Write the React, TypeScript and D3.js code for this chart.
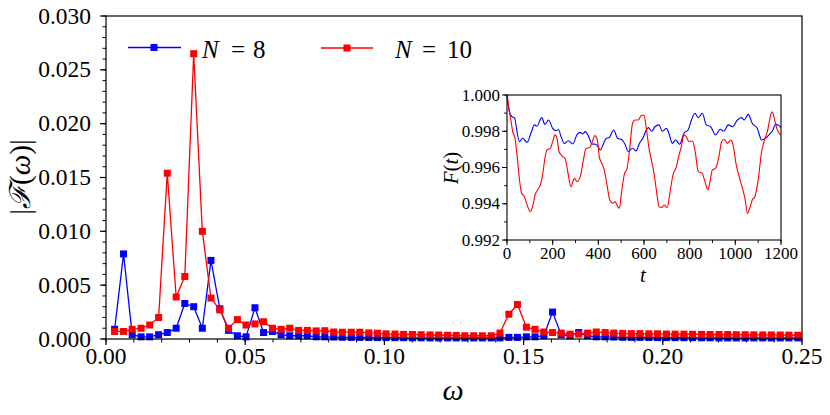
import React, { useEffect } from 'react';
import * as d3 from 'd3';

// frequency grid of the spectrum
const omega = [
  0.0031, 0.0063, 0.0094, 0.0126, 0.0157, 0.0189, 0.022, 0.0252, 0.0283, 0.0315,
  0.0346, 0.0377, 0.0409, 0.044, 0.0472, 0.0503, 0.0535, 0.0566, 0.0598, 0.0629,
  0.066, 0.0692, 0.0723, 0.0755, 0.0786, 0.0818, 0.0849, 0.0881, 0.0912, 0.0944,
  0.0975, 0.1006, 0.1038, 0.1069, 0.1101, 0.1132, 0.1164, 0.1195, 0.1227, 0.1258,
  0.1289, 0.1321, 0.1352, 0.1384, 0.1415, 0.1447, 0.1478, 0.151, 0.1541, 0.1573,
  0.1604, 0.1635, 0.1667, 0.1698, 0.173, 0.1761, 0.1793, 0.1824, 0.1856, 0.1887,
  0.1918, 0.195, 0.1981, 0.2013, 0.2044, 0.2076, 0.2107, 0.2139, 0.217, 0.2202,
  0.2233, 0.2264, 0.2296, 0.2327, 0.2359, 0.239, 0.2422, 0.2453, 0.2485,
];

const specN8 = [
  0.0009, 0.0079, 0.0004, 0.0002, 0.0002, 0.0004, 0.0006, 0.001, 0.0033, 0.003,
  0.001, 0.0073, 0.0028, 0.0008, 0.0003, 0.0002, 0.0029, 0.0006, 0.0007, 0.0004,
  0.0003, 0.0003, 0.0003, 0.0002, 0.0002, 0.00018, 0.00016, 0.00015, 0.00015, 0.00014,
  0.00013, 0.00013, 0.00012, 0.00012, 0.00011, 0.00011, 0.0001, 0.0001, 0.0001, 0.0001,
  0.0001, 0.0001, 0.0001, 0.0001, 0.0001, 0.00015, 0.00015, 0.0002, 0.0002, 0.0003,
  0.0025, 0.0004, 0.0003, 0.0006, 0.0003, 0.0002, 0.0002, 0.00018, 0.00016, 0.00015,
  0.00015, 0.00014, 0.00013, 0.00013, 0.00012, 0.00012, 0.00012, 0.00011, 0.00011, 0.0001,
  0.0001, 0.0001, 0.0001, 0.0001, 0.0001, 0.0001, 0.0001, 0.0001, 0.0001,
];

const specN10 = [
  0.0007, 0.0007, 0.0009, 0.001, 0.0013, 0.002, 0.0154, 0.0039, 0.0058, 0.0265,
  0.01, 0.0038, 0.0027, 0.001, 0.0018, 0.0013, 0.0014, 0.0016, 0.001, 0.0009,
  0.001, 0.0008, 0.0008, 0.00075, 0.00077, 0.00065, 0.00063, 0.00063, 0.00063, 0.00057,
  0.00054, 0.00048, 0.00046, 0.00043, 0.00042, 0.0004, 0.00038, 0.00037, 0.00035, 0.00033,
  0.0003, 0.0003, 0.0003, 0.0003, 0.00055, 0.0023, 0.0032, 0.0011, 0.0009, 0.00065,
  0.0006, 0.00055, 0.00045, 0.00045, 0.00055, 0.00065, 0.0006, 0.00055, 0.00052, 0.0005,
  0.0005, 0.00048, 0.00048, 0.00046, 0.00045, 0.00045, 0.00044, 0.00043, 0.00042, 0.00042,
  0.00041, 0.0004, 0.0004, 0.00039, 0.00038, 0.00038, 0.00037, 0.00036, 0.00035,
];

// inset: fidelity vs time
const tN8 = [
  0, 10, 22, 32, 54, 69, 88, 105, 120, 131, 152, 166, 182, 200, 215, 225, 237, 251, 269, 288,
  307, 321, 331, 343, 361, 371, 390, 409, 423, 434, 448, 467, 485, 502, 517, 531, 550, 565, 580, 594,
  619, 634, 648, 666, 680, 698, 709, 724, 739, 756, 775, 793, 809, 823, 838, 855, 873, 892, 914, 933,
  950, 969, 987, 1009, 1028, 1038, 1057, 1074, 1096, 1115, 1130, 1147, 1162, 1177, 1188, 1200,
];
const fN8 = [
  1.0, 0.9991, 0.9988, 0.99875, 0.99743, 0.99761, 0.99739, 0.9979, 0.99835, 0.99828, 0.99875, 0.99838, 0.99862, 0.99816, 0.99803, 0.9981, 0.9977, 0.99733, 0.99748, 0.9973,
  0.99783, 0.99794, 0.99785, 0.99798, 0.9976, 0.9973, 0.99728, 0.99697, 0.99733, 0.9976, 0.99765, 0.99807, 0.9976, 0.99755, 0.99728, 0.99688, 0.99706, 0.99691, 0.99733, 0.9976,
  0.9982, 0.998, 0.99825, 0.99835, 0.998, 0.99816, 0.99789, 0.99733, 0.99752, 0.99728, 0.99789, 0.99807, 0.99866, 0.99899, 0.99875, 0.99899, 0.99835, 0.99825, 0.9978, 0.99811,
  0.998, 0.99835, 0.99825, 0.99862, 0.99875, 0.99862, 0.99893, 0.99844, 0.99816, 0.99752, 0.9976, 0.9978, 0.99801, 0.99838, 0.99835, 0.9982,
];

const tN10 = [
  0, 8, 17, 25, 35, 44, 54, 64, 76, 88, 102, 112, 123, 134, 146, 156, 166, 175, 190, 200,
  210, 219, 228, 244, 254, 266, 280, 295, 307, 321, 336, 346, 361, 371, 385, 397, 404, 415, 426, 438,
  450, 463, 473, 485, 492, 502, 514, 526, 536, 550, 561, 575, 587, 600, 610, 622, 634, 644, 654, 666,
  677, 688, 702, 712, 727, 742, 750, 765, 775, 785, 797, 812, 823, 838, 855, 867, 880, 889, 899, 914,
  928, 940, 950, 965, 980, 990, 1004, 1019, 1031, 1042, 1053, 1063, 1074, 1086, 1101, 1115, 1130, 1140, 1155, 1162,
  1174, 1184, 1200,
];
const fN10 = [
  1.0, 0.9993, 0.99862, 0.99798, 0.99761, 0.99669, 0.9954, 0.99458, 0.9944, 0.99393, 0.99357, 0.99384, 0.99449, 0.99476, 0.99504, 0.99559, 0.99651, 0.99697, 0.99706, 0.99743,
  0.9978, 0.99761, 0.99688, 0.9966, 0.99651, 0.99577, 0.99494, 0.9954, 0.99522, 0.9955, 0.99651, 0.99706, 0.9971, 0.99733, 0.99776, 0.99743, 0.9966, 0.99623, 0.99586, 0.99504,
  0.99421, 0.99403, 0.99412, 0.99384, 0.99375, 0.99467, 0.99563, 0.99596, 0.99688, 0.99844, 0.99862, 0.99862, 0.99886, 0.9989, 0.99816, 0.99706, 0.99632, 0.99568, 0.99476, 0.99384,
  0.99379, 0.99393, 0.99379, 0.99449, 0.99559, 0.99605, 0.99651, 0.99724, 0.9978, 0.9977, 0.99743, 0.99746, 0.99697, 0.99577, 0.99568, 0.99522, 0.99476, 0.99522, 0.99586, 0.99596,
  0.9966, 0.99743, 0.99756, 0.99733, 0.99752, 0.99724, 0.99614, 0.9954, 0.99485, 0.9943, 0.99347, 0.99375, 0.99421, 0.9944, 0.9954, 0.99688, 0.9976, 0.99798, 0.9989, 0.99908,
  0.99853, 0.99807, 0.99779,
];

const BLUE = '#0000ff';
const RED = '#ff0000';
const FONT = 'Liberation Serif';

const W = 830;
const H = 415;
const main = { left: 106, right: 802, top: 16, bottom: 339 };
const inset = { left: 507, right: 781, top: 95, bottom: 240 };

const App: React.FC = () => {
  useEffect(() => {
    document.body.style.margin = '0';
  }, []);

  const x = d3.scaleLinear().domain([0, 0.25]).range([main.left, main.right]);
  const y = d3.scaleLinear().domain([0, 0.03]).range([main.bottom, main.top]);

  const xi = d3.scaleLinear().domain([0, 1200]).range([inset.left, inset.right]);
  const yi = d3.scaleLinear().domain([0.992, 1.0]).range([inset.bottom, inset.top]);

  const spec = d3.line<number>()
    .x((_, i) => x(omega[i]))
    .y(d => y(d));

  const fid = (ts: number[]) => d3.line<number>()
    .x((_, i) => xi(ts[i]))
    .y(d => yi(d))
    .curve(d3.curveMonotoneX);

  const ms = 7; // marker size

  const series = [
    { vals: specN8, color: BLUE },
    { vals: specN10, color: RED },
  ];

  return (
    <svg width={W} height={H} fontFamily={FONT} style={{ display: 'block', background: '#fff', fontFamily: FONT }}>
      <style>{`text, tspan { font-family: "Liberation Serif", serif !important; }`}</style>
      {/* main axis ticks */}
      {y.ticks(30).map(v => (
        <line key={'ym' + v} x1={main.left - 3.5} x2={main.left} y1={y(v)} y2={y(v)} stroke="#000" strokeWidth={1} />
      ))}
      {y.ticks(6).map(v => (
        <g key={'yM' + v}>
          <line x1={main.left - 6} x2={main.left} y1={y(v)} y2={y(v)} stroke="#000" strokeWidth={1.2} />
          <text x={main.left - 15} y={y(v) + 7.5} fontSize={23.5} textAnchor="end">{d3.format('.3f')(v)}</text>
        </g>
      ))}
      {x.ticks(25).map(v => (
        <line key={'xm' + v} x1={x(v)} x2={x(v)} y1={main.bottom} y2={main.bottom + 3.5} stroke="#000" strokeWidth={1} />
      ))}
      {x.ticks(5).map(v => (
        <g key={'xM' + v}>
          <line x1={x(v)} x2={x(v)} y1={main.bottom} y2={main.bottom + 6} stroke="#000" strokeWidth={1.2} />
          <text x={x(v)} y={main.bottom + 25} fontSize={23.5} textAnchor="middle">{d3.format('.2f')(v)}</text>
        </g>
      ))}

      {/* axis labels */}
      <text x={453} y={400} fontSize={30} fontStyle="italic" textAnchor="middle">ω</text>
      <text transform="translate(30,177) rotate(-90)" fontSize={29} textAnchor="middle">
        |<tspan fontStyle="italic">ℱ</tspan>(<tspan fontStyle="italic">ω</tspan>)|
      </text>

      {/* spectra */}
      {series.map(s => (
        <g key={s.color}>
          <path d={spec(s.vals) ?? ''} fill="none" stroke={s.color} strokeWidth={1.3} />
          {s.vals.map((v, i) => (
            <rect key={i} x={x(omega[i]) - ms / 2} y={y(v) - ms / 2} width={ms} height={ms} fill={s.color} />
          ))}
        </g>
      ))}

      {/* legend */}
      <line x1={128} x2={181} y1={47.5} y2={47.5} stroke={BLUE} strokeWidth={1.3} />
      <rect x={154 - ms / 2} y={47.5 - ms / 2} width={ms} height={ms} fill={BLUE} />
      <text y={58} fontSize={25}>
        <tspan x={202} fontStyle="italic">N</tspan>
        <tspan x={231}>=</tspan>
        <tspan x={253}>8</tspan>
      </text>
      <line x1={321} x2={373} y1={48} y2={48} stroke={RED} strokeWidth={1.3} />
      <rect x={347 - ms / 2} y={48 - ms / 2} width={ms} height={ms} fill={RED} />
      <text y={57.5} fontSize={25}>
        <tspan x={395} fontStyle="italic">N</tspan>
        <tspan x={422}>=</tspan>
        <tspan x={447}>10</tspan>
      </text>

      {/* main frame */}
      <rect x={main.left} y={main.top} width={main.right - main.left} height={main.bottom - main.top}
        fill="none" stroke="#000" strokeWidth={1.2} />

      {/* inset */}
      <rect x={inset.left} y={inset.top} width={inset.right - inset.left} height={inset.bottom - inset.top} fill="#fff" />
      {yi.ticks(8).map(v => (
        <line key={'iym' + v} x1={inset.left - 3} x2={inset.left} y1={yi(v)} y2={yi(v)} stroke="#000" strokeWidth={0.9} />
      ))}
      {yi.ticks(4).map(v => (
        <g key={'iyM' + v}>
          <line x1={inset.left - 5} x2={inset.left} y1={yi(v)} y2={yi(v)} stroke="#000" strokeWidth={1} />
          <text x={inset.left - 7} y={yi(v) + 5.5} fontSize={17} textAnchor="end">{d3.format('.3f')(v)}</text>
        </g>
      ))}
      {xi.ticks(12).map(v => (
        <line key={'ixm' + v} x1={xi(v)} x2={xi(v)} y1={inset.bottom} y2={inset.bottom + 3} stroke="#000" strokeWidth={0.9} />
      ))}
      {xi.ticks(6).map(v => (
        <g key={'ixM' + v}>
          <line x1={xi(v)} x2={xi(v)} y1={inset.bottom} y2={inset.bottom + 5} stroke="#000" strokeWidth={1} />
          <text x={xi(v)} y={inset.bottom + 19} fontSize={17} textAnchor="middle">{d3.format('d')(v)}</text>
        </g>
      ))}
      <text x={643} y={282} fontSize={21} fontStyle="italic" textAnchor="middle">t</text>
      <text transform="translate(458,168) rotate(-90)" fontSize={21} textAnchor="middle">
        <tspan fontStyle="italic">F</tspan>(<tspan fontStyle="italic">t</tspan>)
      </text>
      <path d={fid(tN8)(fN8) ?? ''} fill="none" stroke={BLUE} strokeWidth={1.1} />
      <path d={fid(tN10)(fN10) ?? ''} fill="none" stroke={RED} strokeWidth={1.1} />
      <rect x={inset.left} y={inset.top} width={inset.right - inset.left} height={inset.bottom - inset.top}
        fill="none" stroke="#000" strokeWidth={1.1} />
    </svg>
  );
};

export default App;
